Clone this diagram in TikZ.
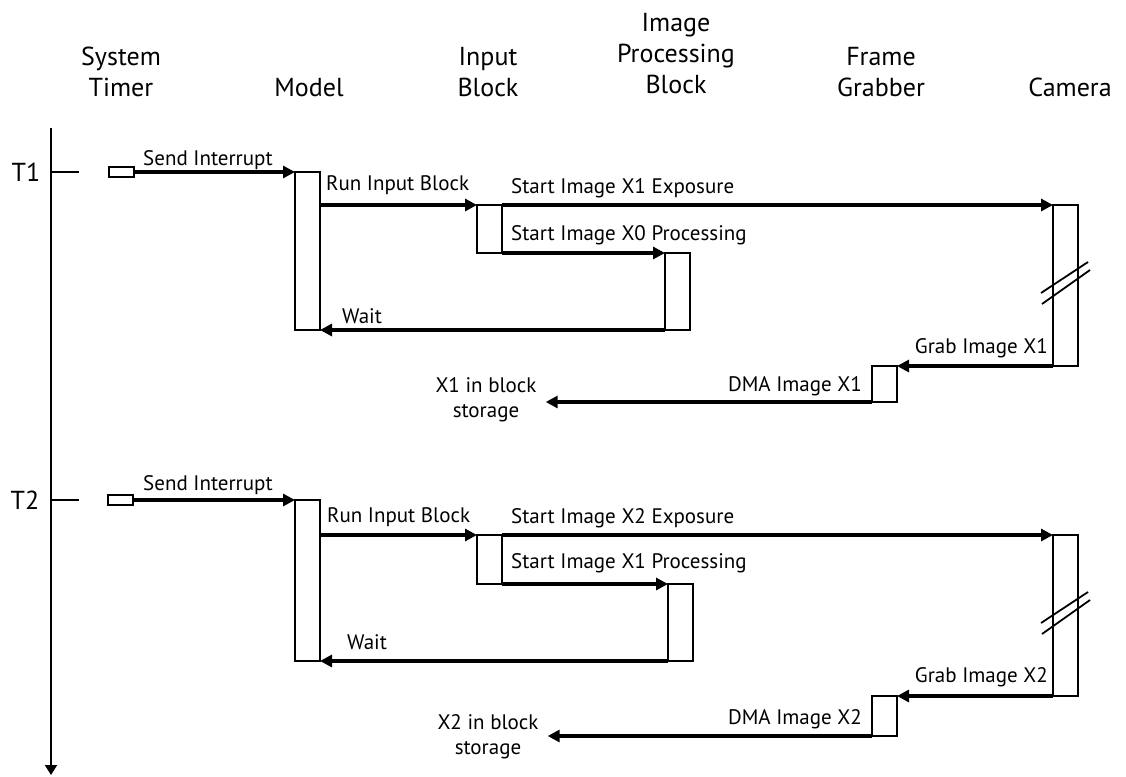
\documentclass[tikz,border=0pt]{standalone}
\usepackage{fontspec}
\setmainfont{PT Sans}
\usetikzlibrary{arrows.meta,calc}
\newcommand\myhdfont{\fontsize{26}{31}\selectfont}
\newcommand\mylbfont{\fontsize{21}{25}\selectfont}
\tikzset{
  act/.style={draw, line width=1.8pt, fill=white, minimum width=25pt, inner sep=0pt, outer sep=0pt, anchor=north west},
  tmr/.style={draw, line width=1.8pt, fill=white, minimum width=25pt, minimum height=10pt, inner sep=0pt, outer sep=0pt, anchor=west},
  msg/.style={line width=3.8pt, -{Triangle[length=12pt,width=12pt]}},
  lbl/.style={font=\mylbfont, inner sep=0pt},
  hdr/.style={font=\myhdfont, align=center, inner sep=0pt, anchor=base},
  store/.style={font=\mylbfont, align=center, inner xsep=9pt, inner ysep=0pt},
  brk/.style={line width=1.8pt},
}
\begin{document}
\begin{tikzpicture}[x=1pt,y=-1pt]
\useasboundingbox (0,0) rectangle (1126,776);
% headers (anchor = baseline of last line)
\node[hdr] (hst) at (121,96) {System\\Timer};
\node[hdr] (hmo) at (309,96) {Model};
\node[hdr] (hib) at (488,96) {Input\\Block};
\node[hdr] (hip) at (676,93) {Image\\Processing\\Block};
\node[hdr] (hfg) at (881,96) {Frame\\Grabber};
\node[hdr] (hca) at (1070,96) {Camera};
% time axis
\coordinate (axtop) at (51,128);
\coordinate (axbot) at (51,775);
\draw[line width=2pt, -{Triangle[length=10pt,width=12pt]}] (axtop) -- (axbot);
\coordinate (t1a) at (51,172); \coordinate (t1b) at (79,172);
\coordinate (t2a) at (51,500); \coordinate (t2b) at (79,500);
\draw[line width=1.8pt] (t1a) -- (t1b);
\draw[line width=1.8pt] (t2a) -- (t2b);
\node[hdr, anchor=center] (lt1) at (26,172) {T1};
\node[hdr, anchor=center] (lt2) at (25,500) {T2};

% ---------- cycle 1 ----------
\node[tmr] (tb1) at (109,172) {};
\node[act, minimum height=158pt] (m1) at (295,172) {};
\node[act, minimum height=48pt] (ib1) at (477,205) {};
\node[act, minimum height=77pt] (ip1) at (665,253) {};
\node[act, minimum height=161pt] (cam1) at (1053,205) {};
\node[act, minimum height=36pt] (fg1) at (872,366) {};
\node[store] (st1) at (486,400) {X1 in block\\storage};

\draw[msg] (tb1.east) -- (m1.north west);
\draw[msg] (m1.east |- ib1.north west) -- (ib1.north west);
\draw[msg] (ib1.north east) -- (cam1.north west);
\draw[msg] (ib1.south east) -- (ip1.north west);
\draw[msg] (ip1.south west) -- (m1.south east);
\draw[msg] (cam1.south west) -- (fg1.north east);
\draw[msg] (fg1.south west) -- (st1.east |- fg1.south west);

\draw[brk] ($(cam1.north)+(-24.5,88)$) -- ($(cam1.north)+(22.5,57)$);
\draw[brk] ($(cam1.north)+(-23.5,99)$) -- ($(cam1.north)+(24.5,65)$);

\node[lbl, anchor=base west] (l11) at (143,165) {Send Interrupt};
\node[lbl, anchor=base west] (l12) at (326,190) {Run Input Block};
\node[lbl, anchor=base west] (l13) at (511,193) {Start Image X1 Exposure};
\node[lbl, anchor=base west] (l14) at (511,240) {Start Image X0 Processing};
\node[lbl, anchor=base west] (l15) at (342,323) {Wait};
\node[lbl, anchor=base east] (l16) at (1048,353) {Grab Image X1};
\node[lbl, anchor=base east] (l17) at (862,391) {DMA Image X1};

% ---------- cycle 2 ----------
\node[tmr] (tb2) at (108,500) {};
\node[act, minimum height=161pt] (m2) at (295,500) {};
\node[act, minimum height=49pt] (ib2) at (477,535) {};
\node[act, minimum height=77pt] (ip2) at (668,584) {};
\node[act, minimum height=161pt] (cam2) at (1053,535) {};
\node[act, minimum height=40pt] (fg2) at (872,696) {};
\node[store] (st2) at (488,737) {X2 in block\\storage};

\draw[msg] (tb2.east) -- (m2.north west);
\draw[msg] (m2.east |- ib2.north west) -- (ib2.north west);
\draw[msg] (ib2.north east) -- (cam2.north west);
\draw[msg] (ib2.south east) -- (ip2.north west);
\draw[msg] (ip2.south west) -- (m2.south east);
\draw[msg] (cam2.south west) -- (fg2.north east);
\draw[msg] (fg2.south west) -- (st2.east |- fg2.south west);

\draw[brk] ($(cam2.north)+(-24.5,88)$) -- ($(cam2.north)+(22.5,57)$);
\draw[brk] ($(cam2.north)+(-23.5,99)$) -- ($(cam2.north)+(24.5,65)$);

\node[lbl, anchor=base west] (l21) at (143,490) {Send Interrupt};
\node[lbl, anchor=base west] (l22) at (327,522) {Run Input Block};
\node[lbl, anchor=base west] (l23) at (511,523) {Start Image X2 Exposure};
\node[lbl, anchor=base west] (l24) at (511,568) {Start Image X1 Processing};
\node[lbl, anchor=base west] (l25) at (347,649) {Wait};
\node[lbl, anchor=base east] (l26) at (1048,682) {Grab Image X2};
\node[lbl, anchor=base east] (l27) at (862,724) {DMA Image X2};
\end{tikzpicture}
\end{document}
